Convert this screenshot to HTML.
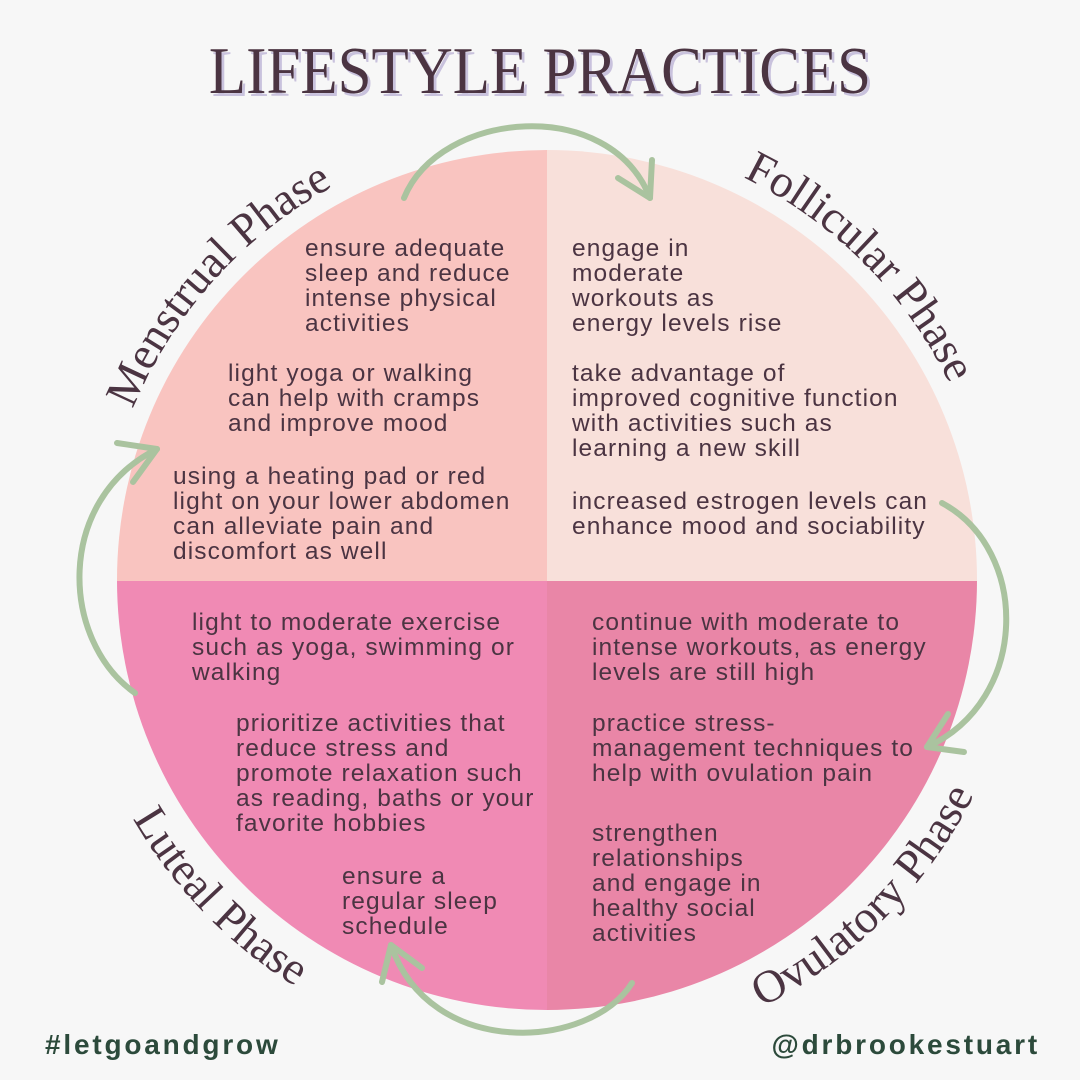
<!DOCTYPE html>
<html><head><meta charset="utf-8"><style>
html,body{margin:0;padding:0;background:#f7f7f7}
svg{display:block}
.b{font-family:"Liberation Sans",sans-serif;font-size:24.5px;fill:#4b3442;letter-spacing:1.1px}
.p{font-family:"Liberation Serif",serif;font-size:46px;fill:#4b3442}
.ar{fill:none;stroke:#aac39f;stroke-width:6;stroke-linecap:round;stroke-linejoin:round}
.ft{font-family:"Liberation Sans",sans-serif;font-weight:bold;font-size:28px;fill:#2c4a3b;letter-spacing:2.8px}
</style></head><body>
<svg width="1080" height="1080" viewBox="0 0 1080 1080" xmlns="http://www.w3.org/2000/svg">
<rect width="1080" height="1080" fill="#f7f7f7"/>
<defs>
<path id="top" d="M 99 580 A 448 448 0 0 1 995 580"/>
<path id="bot" d="M 69 580 A 478 478 0 0 0 1025 580"/>
<clipPath id="c"><circle cx="547" cy="580" r="430"/></clipPath>
</defs>
<g clip-path="url(#c)">
<rect x="100" y="140" width="447" height="441" fill="#f9c4c0"/>
<rect x="547" y="140" width="450" height="441" fill="#f8e0da"/>
<rect x="100" y="581" width="447" height="440" fill="#f08ab4"/>
<rect x="547" y="581" width="450" height="440" fill="#e986a7"/>
</g>
<g transform="translate(540,93) scale(0.91,1)">
<text x="3" y="3" text-anchor="middle" font-family="Liberation Serif,serif" font-size="67" fill="#c9c2dd">LIFESTYLE PRACTICES</text>
<text x="0" y="0" text-anchor="middle" font-family="Liberation Serif,serif" font-size="67" fill="#4b3442">LIFESTYLE PRACTICES</text>
</g>
<text class="p"><textPath href="#top" startOffset="23.3%" text-anchor="middle">Menstrual Phase</textPath></text>
<text class="p"><textPath href="#top" startOffset="75%" text-anchor="middle">Follicular Phase</textPath></text>
<text class="p"><textPath href="#bot" startOffset="24.5%" text-anchor="middle">Luteal Phase</textPath></text>
<text class="p"><textPath href="#bot" startOffset="75%" text-anchor="middle">Ovulatory Phase</textPath></text>
<path class="ar" d="M404 198 C 440 110, 610 95, 650 198"/>
<path class="ar" d="M618 178 L650 198 L652 160"/>
<path class="ar" d="M942 503 C 1030 550, 1030 700, 927 747"/>
<path class="ar" d="M948 714 L927 747 L964 752"/>
<path class="ar" d="M632 983 C 590 1050, 430 1060, 391 945"/>
<path class="ar" d="M382 982 L391 945 L422 968"/>
<path class="ar" d="M135 693 C 60 640, 55 500, 157 449"/>
<path class="ar" d="M117 443 L157 449 L133 482"/>
<g class="b">
<text x="305" y="256">ensure adequate</text>
<text x="305" y="281">sleep and reduce</text>
<text x="305" y="306">intense physical</text>
<text x="305" y="331">activities</text>
<text x="228" y="381">light yoga or walking</text>
<text x="228" y="406">can help with cramps</text>
<text x="228" y="431">and improve mood</text>
<text x="173" y="484">using a heating pad or red</text>
<text x="173" y="509">light on your lower abdomen</text>
<text x="173" y="534">can alleviate pain and</text>
<text x="173" y="559">discomfort as well</text>
<text x="572" y="256">engage in</text>
<text x="572" y="281">moderate</text>
<text x="572" y="306">workouts as</text>
<text x="572" y="331">energy levels rise</text>
<text x="572" y="381">take advantage of</text>
<text x="572" y="406">improved cognitive function</text>
<text x="572" y="431">with activities such as</text>
<text x="572" y="456">learning a new skill</text>
<text x="572" y="509">increased estrogen levels can</text>
<text x="572" y="534">enhance mood and sociability</text>
<text x="192" y="630">light to moderate exercise</text>
<text x="192" y="655">such as yoga, swimming or</text>
<text x="192" y="680">walking</text>
<text x="236" y="731">prioritize activities that</text>
<text x="236" y="756">reduce stress and</text>
<text x="236" y="781">promote relaxation such</text>
<text x="236" y="806">as reading, baths or your</text>
<text x="236" y="831">favorite hobbies</text>
<text x="342" y="884">ensure a</text>
<text x="342" y="909">regular sleep</text>
<text x="342" y="934">schedule</text>
<text x="592" y="630">continue with moderate to</text>
<text x="592" y="655">intense workouts, as energy</text>
<text x="592" y="680">levels are still high</text>
<text x="592" y="731">practice stress-</text>
<text x="592" y="756">management techniques to</text>
<text x="592" y="781">help with ovulation pain</text>
<text x="592" y="841">strengthen</text>
<text x="592" y="866">relationships</text>
<text x="592" y="891">and engage in</text>
<text x="592" y="916">healthy social</text>
<text x="592" y="941">activities</text>
</g>
<text class="ft" x="45" y="1054">#letgoandgrow</text>
<text class="ft" x="1040" y="1054" text-anchor="end">@drbrookestuart</text>
</svg>
</body></html>
